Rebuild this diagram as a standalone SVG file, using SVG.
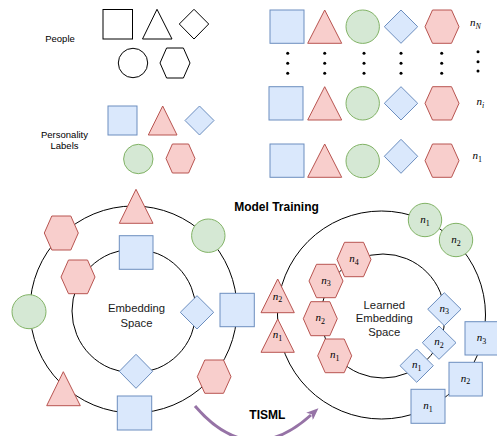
<svg xmlns="http://www.w3.org/2000/svg" width="497" height="436" viewBox="0 0 497 436">
<style>
.blue{fill:#dae8fc;stroke:#6c8ebf;stroke-width:1}
.red{fill:#f8cecc;stroke:#b85450;stroke-width:1}
.green{fill:#d5e8d4;stroke:#82b366;stroke-width:1}
.plain{fill:#ffffff;stroke:#000000;stroke-width:1}
.ring{fill:none;stroke:#000000;stroke-width:1}
.dot{fill:#000000}
.lbl{font-family:"Liberation Sans",Arial,Helvetica,sans-serif;font-size:9.5px;fill:#000;text-anchor:middle}
.mid{font-family:"Liberation Sans",Arial,Helvetica,sans-serif;font-size:11.3px;fill:#1a1a1a;text-anchor:middle}
.bold{font-family:"Liberation Sans",Arial,Helvetica,sans-serif;font-size:12px;font-weight:bold;fill:#000;text-anchor:middle}
.n{font-family:"Liberation Serif","Times New Roman",serif;font-size:11px;fill:#000;text-anchor:middle}
.ni{font-style:italic}
.sub{font-size:8px}
.arrow{fill:none;stroke:#9673a6;stroke-width:3}
</style>
<defs>
<marker id="ah" viewBox="0 0 12 10" refX="2" refY="5" markerWidth="12" markerHeight="10" markerUnits="userSpaceOnUse" orient="auto">
<path d="M0,0 L12,5 L0,10 L3,5 z" fill="#9673a6"/>
</marker>
</defs>
<rect x="0" y="0" width="497" height="436" fill="#ffffff"/>

<!-- People -->
<g id="people-label"><text class="lbl" x="60" y="42">People</text></g>
<g id="people-square"><rect class="plain" x="103" y="9.5" width="29.5" height="29.5"/></g>
<g id="people-triangle"><polygon class="plain" points="142.5,39 157,9.3 172,39"/></g>
<g id="people-diamond"><polygon class="plain" points="179.3,24 194,9.3 208.7,24 194,39"/></g>
<g id="people-circle"><circle class="plain" cx="133" cy="63" r="14.7"/></g>
<g id="people-hexagon"><polygon class="plain" points="160,63 166.6,48 183.4,48 190,63 183.4,78 166.6,78"/></g>

<!-- Personality labels -->
<g id="personality-label"><text class="lbl" x="64.5" y="137.5">Personality</text><text class="lbl" x="64.5" y="149">Labels</text></g>
<g id="label-square"><rect class="blue" x="108" y="106" width="29" height="29"/></g>
<g id="label-triangle"><polygon class="red" points="148.3,135 162.7,106 177,135"/></g>
<g id="label-diamond"><polygon class="blue" points="185,120.5 199.5,106 214,120.5 199.5,135"/></g>
<g id="label-circle"><circle class="green" cx="138.3" cy="159" r="14.7"/></g>
<g id="label-hexagon"><polygon class="red" points="166,158.5 172.4,144 188.6,144 195,158.5 188.6,173 172.4,173"/></g>

<!-- Grid row N -->
<g id="rowN">
<rect class="blue" x="270" y="10" width="34" height="33.3"/>
<polygon class="red" points="307.7,43.3 324.7,10 341.7,43.3"/>
<circle class="green" cx="362.7" cy="26.7" r="16.7"/>
<polygon class="blue" points="384.3,26.7 401,10 417.7,26.7 401,43.3"/>
<polygon class="red" points="425,26.7 432.5,10 451.5,10 459,26.7 451.5,43.3 432.5,43.3"/>
<text class="n" x="470" y="26" style="text-anchor:start"><tspan class="ni">n</tspan><tspan class="sub ni" dy="2.5">N</tspan></text>
</g>
<g id="dots">
<circle class="dot" cx="287.7" cy="53.3" r="1.5"/><circle class="dot" cx="287.7" cy="63.3" r="1.5"/><circle class="dot" cx="287.7" cy="73.3" r="1.5"/>
<circle class="dot" cx="324.7" cy="53.3" r="1.5"/><circle class="dot" cx="324.7" cy="63.3" r="1.5"/><circle class="dot" cx="324.7" cy="73.3" r="1.5"/>
<circle class="dot" cx="364" cy="53.3" r="1.5"/><circle class="dot" cx="364" cy="63.3" r="1.5"/><circle class="dot" cx="364" cy="73.3" r="1.5"/>
<circle class="dot" cx="401" cy="53.3" r="1.5"/><circle class="dot" cx="401" cy="63.3" r="1.5"/><circle class="dot" cx="401" cy="73.3" r="1.5"/>
<circle class="dot" cx="441.7" cy="53.3" r="1.5"/><circle class="dot" cx="441.7" cy="63.3" r="1.5"/><circle class="dot" cx="441.7" cy="73.3" r="1.5"/>
<circle class="dot" cx="478" cy="51.7" r="1.5"/><circle class="dot" cx="478" cy="61.7" r="1.5"/><circle class="dot" cx="478" cy="71" r="1.5"/>
</g>
<g id="rowI">
<rect class="blue" x="269" y="86.7" width="34" height="33.3"/>
<polygon class="red" points="307.7,120 324.7,86.7 341.7,120"/>
<circle class="green" cx="362.7" cy="103.3" r="16.7"/>
<polygon class="blue" points="384.3,103.3 401,86.7 417.7,103.3 401,120"/>
<polygon class="red" points="425,103.3 432.5,86.7 451.5,86.7 459,103.3 451.5,120 432.5,120"/>
<text class="n" x="476.5" y="105" style="text-anchor:start"><tspan class="ni">n</tspan><tspan class="sub ni" dy="2.5">i</tspan></text>
</g>
<g id="row1">
<rect class="blue" x="270" y="144" width="34" height="33.3"/>
<polygon class="red" points="307.7,177.3 324.7,144 341.7,177.3"/>
<circle class="green" cx="362.7" cy="161" r="16.7"/>
<polygon class="blue" points="384.3,156.3 401,139.3 417.7,156.3 401,173.3"/>
<polygon class="red" points="425,160.7 432.5,144 451.5,144 459,160.7 451.5,177.3 432.5,177.3"/>
<text class="n" x="472.5" y="159" style="text-anchor:start"><tspan class="ni">n</tspan><tspan class="sub" dy="2.5">1</tspan></text>
</g>

<!-- Connectors / rings -->
<g id="connectors">
<circle class="ring" cx="133.5" cy="309.5" r="103.5"/>
<circle class="ring" cx="134" cy="311" r="62"/>
<circle class="ring" cx="381.5" cy="315" r="104"/>
<circle class="ring" cx="383" cy="316" r="62"/>
<path class="arrow" d="M195,406 Q250,470 311,415" marker-end="url(#ah)"/>
</g>

<!-- Left embedding space -->
<g id="embedding-space"><text class="mid" x="136.5" y="312.3">Embedding</text><text class="mid" x="136.5" y="326.7">Space</text></g>
<g id="l-outer-triangle-top"><polygon class="red" points="119.3,223.3 136,189.3 153,223.3"/></g>
<g id="l-outer-hex-ul"><polygon class="red" points="44.3,233 51.8,216 70.8,216 78.3,233 70.8,250 51.8,250"/></g>
<g id="l-outer-circle-ur"><circle class="green" cx="208.3" cy="235.7" r="16.7"/></g>
<g id="l-outer-circle-left"><circle class="green" cx="29" cy="311.7" r="17"/></g>
<g id="l-outer-square-right"><rect class="blue" x="220" y="293.3" width="34.3" height="33.4"/></g>
<g id="l-outer-hex-lr"><polygon class="red" points="197.3,376.7 204.8,360 223.5,360 231,376.7 223.5,393.3 204.8,393.3"/></g>
<g id="l-outer-triangle-ll"><polygon class="red" points="46.7,405.7 63.3,371.7 80.3,405.7"/></g>
<g id="l-outer-square-bottom"><rect class="blue" x="117.3" y="396" width="34.4" height="34"/></g>
<g id="l-inner-square-top"><rect class="blue" x="119.3" y="235.7" width="33.7" height="33.6"/></g>
<g id="l-inner-hex-left"><polygon class="red" points="61,277 68.5,260 87.5,260 95,277 87.5,293.7 68.5,293.7"/></g>
<g id="l-inner-diamond-right"><polygon class="blue" points="180.3,312.3 197,295.7 213.7,312.3 197,329"/></g>
<g id="l-inner-diamond-bottom"><polygon class="blue" points="119.3,371.3 136,354.3 152.7,371.3 136,388.3"/></g>

<!-- Titles -->
<g id="model-training"><text class="bold" x="276.5" y="211">Model Training</text></g>
<g id="tisml"><text class="bold" x="267.3" y="419.3">TISML</text></g>

<!-- Right learned embedding space -->
<g id="learned-space"><text class="mid" x="384.3" y="309">Learned</text><text class="mid" x="384.3" y="322.3">Embedding</text><text class="mid" x="384.3" y="335.7">Space</text></g>
<g id="r-circle-n1"><circle class="green" cx="425" cy="220" r="16.7"/><text class="n" x="425" y="223"><tspan class="ni">n</tspan><tspan class="sub" dy="2.5">1</tspan></text></g>
<g id="r-circle-n2"><circle class="green" cx="456" cy="240" r="16.7"/><text class="n" x="456" y="243"><tspan class="ni">n</tspan><tspan class="sub" dy="2.5">2</tspan></text></g>
<g id="r-hex-n4"><polygon class="red" points="337,259.5 344.5,242.3 363.5,242.3 371,259.5 363.5,276.7 344.5,276.7"/><text class="n" x="354" y="262"><tspan class="ni">n</tspan><tspan class="sub" dy="2.5">4</tspan></text></g>
<g id="r-hex-n3"><polygon class="red" points="309,281 316.5,264.3 335.5,264.3 343,281 335.5,297.7 316.5,297.7"/><text class="n" x="326" y="283.5"><tspan class="ni">n</tspan><tspan class="sub" dy="2.5">3</tspan></text></g>
<g id="r-hex-n2"><polygon class="red" points="303.3,318.7 310.8,301.7 329.8,301.7 337.3,318.7 329.8,335.7 310.8,335.7"/><text class="n" x="320.3" y="321"><tspan class="ni">n</tspan><tspan class="sub" dy="2.5">2</tspan></text></g>
<g id="r-hex-n1"><polygon class="red" points="317.7,355.8 325.2,339 344.2,339 351.7,355.8 344.2,372.7 325.2,372.7"/><text class="n" x="334.7" y="358"><tspan class="ni">n</tspan><tspan class="sub" dy="2.5">1</tspan></text></g>
<g id="r-tri-n2"><polygon class="red" points="261,312.7 277.7,279 294.3,312.7"/><text class="n" x="277.5" y="299.5"><tspan class="ni">n</tspan><tspan class="sub" dy="2.5">2</tspan></text></g>
<g id="r-tri-n1"><polygon class="red" points="261,352.3 277.7,319 294.3,352.3"/><text class="n" x="277.5" y="338"><tspan class="ni">n</tspan><tspan class="sub" dy="2.5">1</tspan></text></g>
<g id="r-dia-n3"><polygon class="blue" points="427.7,309.2 444.3,292.7 461,309.2 444.3,325.7"/><text class="n" x="444.3" y="311.5"><tspan class="ni">n</tspan><tspan class="sub" dy="2.5">3</tspan></text></g>
<g id="r-dia-n2"><polygon class="blue" points="422.3,342.7 439,326 456,342.7 439,359.3"/><text class="n" x="439" y="345"><tspan class="ni">n</tspan><tspan class="sub" dy="2.5">2</tspan></text></g>
<g id="r-dia-n1"><polygon class="blue" points="400,365.7 416.7,349 433.3,365.7 416.7,382.3"/><text class="n" x="416.7" y="368"><tspan class="ni">n</tspan><tspan class="sub" dy="2.5">1</tspan></text></g>
<g id="r-sq-n3"><rect class="blue" x="465" y="321.7" width="34" height="33.3"/><text class="n" x="481.5" y="341"><tspan class="ni">n</tspan><tspan class="sub" dy="2.5">3</tspan></text></g>
<g id="r-sq-n2"><rect class="blue" x="449" y="362.3" width="33.3" height="33.7"/><text class="n" x="465.5" y="381.5"><tspan class="ni">n</tspan><tspan class="sub" dy="2.5">2</tspan></text></g>
<g id="r-sq-n1"><rect class="blue" x="411" y="389.3" width="34" height="34"/><text class="n" x="428" y="409"><tspan class="ni">n</tspan><tspan class="sub" dy="2.5">1</tspan></text></g>
</svg>
